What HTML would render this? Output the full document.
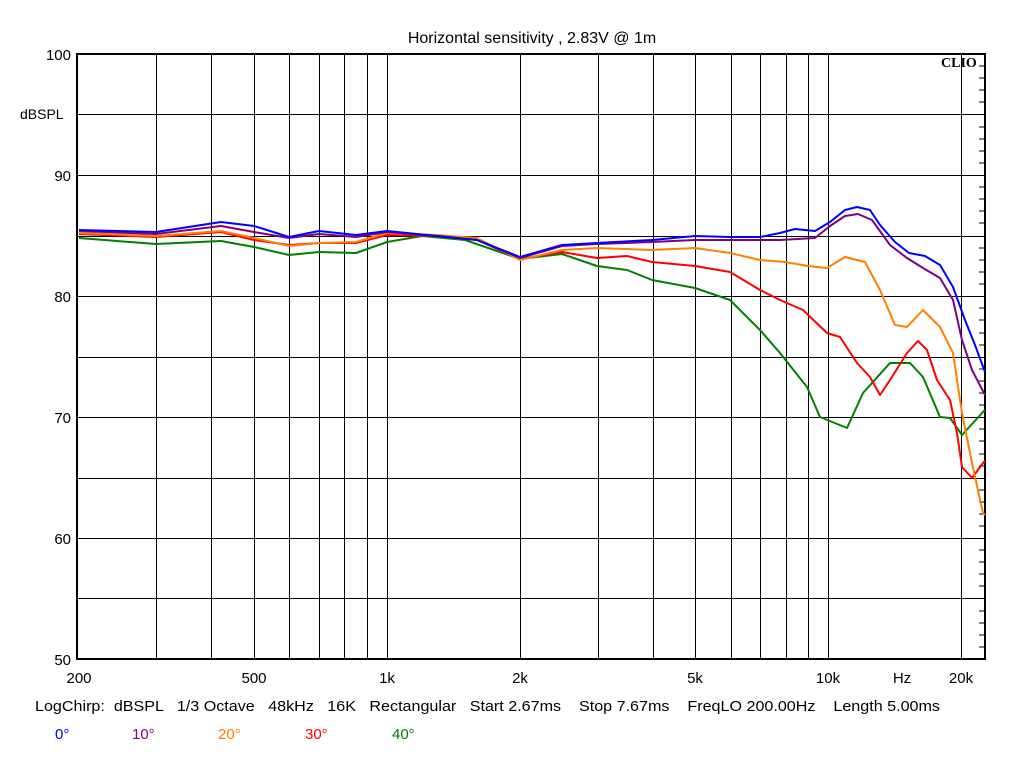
<!DOCTYPE html>
<html><head><meta charset="utf-8"><style>
body{margin:0;background:#fff;}
svg{display:block;font-family:"Liberation Sans",Arial,sans-serif;}
</style></head><body>
<svg width="1024" height="768" viewBox="0 0 1024 768">
<rect width="1024" height="768" fill="#fff"/>
<text x="532" y="43" font-size="16" text-anchor="middle">Horizontal sensitivity , 2.83V @ 1m</text>
<g stroke="#000" stroke-width="1">
<line x1="77" y1="114.5" x2="985" y2="114.5"/><line x1="77" y1="175.5" x2="985" y2="175.5"/>
<line x1="77" y1="236.5" x2="985" y2="236.5"/><line x1="77" y1="296.5" x2="985" y2="296.5"/>
<line x1="77" y1="357.5" x2="985" y2="357.5"/><line x1="77" y1="417.5" x2="985" y2="417.5"/>
<line x1="77" y1="478.5" x2="985" y2="478.5"/><line x1="77" y1="538.5" x2="985" y2="538.5"/>
<line x1="77" y1="598.5" x2="985" y2="598.5"/>
<line x1="156.5" y1="54" x2="156.5" y2="659"/><line x1="211.5" y1="54" x2="211.5" y2="659"/>
<line x1="254.5" y1="54" x2="254.5" y2="659"/><line x1="289.5" y1="54" x2="289.5" y2="659"/>
<line x1="319.5" y1="54" x2="319.5" y2="659"/><line x1="344.5" y1="54" x2="344.5" y2="659"/>
<line x1="367.5" y1="54" x2="367.5" y2="659"/><line x1="387.5" y1="54" x2="387.5" y2="659"/>
<line x1="520.5" y1="54" x2="520.5" y2="659"/><line x1="598.5" y1="54" x2="598.5" y2="659"/>
<line x1="653.5" y1="54" x2="653.5" y2="659"/><line x1="695.5" y1="54" x2="695.5" y2="659"/>
<line x1="731.5" y1="54" x2="731.5" y2="659"/><line x1="760.5" y1="54" x2="760.5" y2="659"/>
<line x1="786.5" y1="54" x2="786.5" y2="659"/><line x1="808.5" y1="54" x2="808.5" y2="659"/>
<line x1="828.5" y1="54" x2="828.5" y2="659"/><line x1="961.5" y1="54" x2="961.5" y2="659"/>
</g>
<g stroke="#000" stroke-width="1">
<line x1="979" y1="66" x2="985" y2="66"/><line x1="979" y1="78" x2="985" y2="78"/><line x1="979" y1="90" x2="985" y2="90"/><line x1="979" y1="102" x2="985" y2="102"/>
<line x1="979" y1="127" x2="985" y2="127"/><line x1="979" y1="139" x2="985" y2="139"/><line x1="979" y1="151" x2="985" y2="151"/><line x1="979" y1="163" x2="985" y2="163"/>
<line x1="979" y1="187" x2="985" y2="187"/><line x1="979" y1="199" x2="985" y2="199"/><line x1="979" y1="211" x2="985" y2="211"/><line x1="979" y1="223" x2="985" y2="223"/>
<line x1="979" y1="248" x2="985" y2="248"/><line x1="979" y1="260" x2="985" y2="260"/><line x1="979" y1="272" x2="985" y2="272"/><line x1="979" y1="284" x2="985" y2="284"/>
<line x1="979" y1="308" x2="985" y2="308"/><line x1="979" y1="320" x2="985" y2="320"/><line x1="979" y1="333" x2="985" y2="333"/><line x1="979" y1="345" x2="985" y2="345"/>
<line x1="979" y1="369" x2="985" y2="369"/><line x1="979" y1="381" x2="985" y2="381"/><line x1="979" y1="393" x2="985" y2="393"/><line x1="979" y1="405" x2="985" y2="405"/>
<line x1="979" y1="429" x2="985" y2="429"/><line x1="979" y1="441" x2="985" y2="441"/><line x1="979" y1="454" x2="985" y2="454"/><line x1="979" y1="466" x2="985" y2="466"/>
<line x1="979" y1="490" x2="985" y2="490"/><line x1="979" y1="502" x2="985" y2="502"/><line x1="979" y1="514" x2="985" y2="514"/><line x1="979" y1="526" x2="985" y2="526"/>
<line x1="979" y1="550" x2="985" y2="550"/><line x1="979" y1="562" x2="985" y2="562"/><line x1="979" y1="574" x2="985" y2="574"/><line x1="979" y1="586" x2="985" y2="586"/>
<line x1="979" y1="611" x2="985" y2="611"/><line x1="979" y1="623" x2="985" y2="623"/><line x1="979" y1="635" x2="985" y2="635"/><line x1="979" y1="647" x2="985" y2="647"/>
</g>
<rect x="77" y="54" width="908" height="605" fill="none" stroke="#000" stroke-width="2"/>
<g fill="none" stroke-width="2" stroke-linejoin="round">
<polyline stroke="#008000" points="79,238 156,244 221,241 254,247 289,255 319,252 356,253 387,242 422,236 465,240 520,259 562,254 597,266 627,270 652,280 695,288 730,300 760,330 780,353 807,387 820,417 847,428 863,393 890,363 910,363 923,377 940,417 950,418 962,435 983,412 985,410"/>
<polyline stroke="#ff0000" points="79,234 156,237 221,232 254,240 289,245 319,243 356,243 387,235 437,236 477,240 520,259 562,252 597,258 627,256 652,262 695,266 730,272 760,290 780,300 803,310 827,333 840,337 857,363 870,377 880,395 890,380 907,353 918,341 927,350 937,380 950,400 957,433 962,467 972,478 983,463 985,461"/>
<polyline stroke="#ff8000" points="79,233 156,236 221,231 254,238 289,246 319,243 356,242 387,233 437,235 477,238 520,260 562,250 597,248 652,250 695,248 730,253 760,260 785,262 808,266 827,268 845,257 865,262 880,290 895,325 907,327 923,310 940,327 953,353 962,413 972,463 983,513 985,515"/>
<polyline stroke="#800080" points="79,231 156,234 221,226 254,232 289,238 319,234 356,237 387,232 437,236 477,240 520,258 562,246 597,244 652,242 695,240 730,240 760,240 780,240 815,238 830,226 845,216 858,214 872,220 890,245 907,258 923,268 940,278 953,300 962,340 972,370 985,395"/>
<polyline stroke="#0000ff" points="79,230 156,232 221,222 254,226 289,237 319,231 356,235 387,231 437,236 477,240 520,257 562,245 597,243 652,240 695,236 730,237 760,237 780,233 795,229 815,231 830,222 845,210 857,207 870,210 880,225 895,242 909,253 925,256 940,265 953,287 965,320 975,345 985,372"/>
</g>
<g font-size="15" text-anchor="end" fill="#000">
<text x="71" y="60">100</text><text x="71" y="181">90</text><text x="71" y="302">80</text>
<text x="71" y="423">70</text><text x="71" y="544">60</text><text x="71" y="665">50</text>
</g>
<text x="20" y="119" font-size="14">dBSPL</text>
<text x="941" y="67" font-size="14" font-weight="bold" font-family="Liberation Serif,serif">CLIO</text>
<g font-size="15" text-anchor="middle">
<text x="79" y="683">200</text><text x="254" y="683">500</text><text x="387" y="683">1k</text>
<text x="520" y="683">2k</text><text x="695" y="683">5k</text><text x="828" y="683">10k</text>
<text x="902" y="683">Hz</text><text x="961" y="683">20k</text>
</g>
<text x="35" y="711" font-size="15" style="white-space:pre" textLength="905" lengthAdjust="spacingAndGlyphs">LogChirp:  dBSPL   1/3 Octave   48kHz   16K   Rectangular   Start 2.67ms    Stop 7.67ms    FreqLO 200.00Hz    Length 5.00ms</text>
<g font-size="15">
<text x="55" y="739" fill="#0000ff">0°</text><text x="132" y="739" fill="#800080">10°</text>
<text x="218" y="739" fill="#ff8000">20°</text><text x="305" y="739" fill="#ff0000">30°</text>
<text x="392" y="739" fill="#008000">40°</text>
</g>
</svg>
</body></html>
